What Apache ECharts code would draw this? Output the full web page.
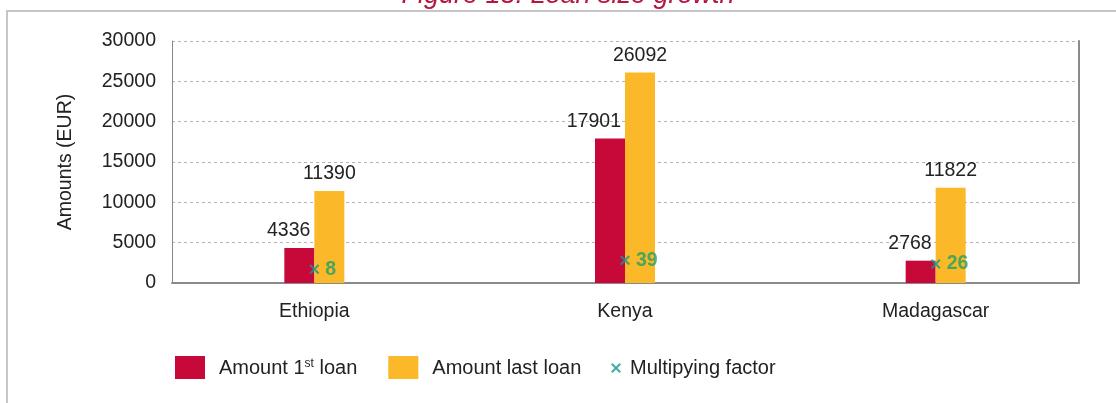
<!DOCTYPE html>
<html>
<head>
<meta charset="utf-8">
<script src="https://cdn.jsdelivr.net/npm/echarts@6/dist/echarts.min.js"></script>
<style>
  html, body { margin: 0; padding: 0; background: #ffffff; }
  #chart { width: 1116px; height: 403px; }
</style>
</head>
<body>
<div id="chart"></div>
<script>
// Loan amounts per country (EUR) and how much the loan grew
const countries = ['Ethiopia', 'Kenya', 'Madagascar'];
const firstLoan = [4336, 17901, 2768];
const lastLoan = [11390, 26092, 11822];
const factor = [8, 39, 26];
const yTicks = { min: 0, max: 30000, step: 5000 };

const FONT = '"Liberation Sans", Arial, Helvetica, sans-serif';
const FS = 19.5;
const RED = '#C7093A';
const YELLOW = '#FBB829';
const TEAL = '#17998C';
const GREEN = '#1FA068';
const AXIS = '#8a8a8a';

const chart = echarts.init(document.getElementById('chart'), null, { renderer: 'canvas' });

const xSymbol = 'path://M1.5,0L5,3.5L8.5,0L10,1.5L6.5,5L10,8.5L8.5,10L5,6.5L1.5,10L0,8.5L3.5,5L0,1.5Z';

chart.setOption({
  backgroundColor: '#ffffff',
  animation: false,
  textStyle: { fontFamily: FONT },
  graphic: [
    {
      type: 'polyline',
      shape: { points: [[7, 403], [7, 11], [1116, 11]] },
      style: { stroke: '#c6c6c6', lineWidth: 2, fill: null },
      silent: true
    },
    {
      type: 'text',
      x: 568, y: 9,
      style: {
        text: 'Figure 18: Loan size growth',
        fill: '#B5163F',
        font: 'italic 27px ' + FONT,
        align: 'center',
        verticalAlign: 'bottom'
      },
      silent: true
    }
  ],
  grid: [
    { left: 172, right: 37, top: 41, bottom: 120 },
    { left: 159, right: 25, top: 41, bottom: 120 }
  ],
  legend: [
    {
      left: 175, top: 356, padding: 0,
      itemWidth: 30, itemHeight: 23, itemGap: 31,
      icon: 'rect',
      data: ['Amount 1st loan', 'Amount last loan'],
      formatter: function (name) {
        return name === 'Amount 1st loan' ? '{t|Amount 1}{sup|st}{t| loan}' : '{t|' + name + '}';
      },
      textStyle: {
        color: '#222',
        padding: [2, 0, 0, 9],
        rich: {
          t: { fontSize: 20, fontFamily: FONT, color: '#222' },
          sup: { fontSize: 12, fontFamily: FONT, color: '#222', padding: [0, 0, 9, 0] }
        }
      }
    },
    {
      left: 611, top: 358, padding: 0,
      itemWidth: 10, itemHeight: 10,
      data: ['Multipying factor'],
      textStyle: { color: '#222', fontSize: 20, fontFamily: FONT, padding: [0, 0, 0, 4] }
    }
  ],
  xAxis: [
    {
      gridIndex: 0, type: 'category', data: countries,
      axisLine: { show: true, lineStyle: { color: AXIS, width: 2 } },
      axisTick: { show: false }, axisLabel: { show: false }
    },
    {
      gridIndex: 1, type: 'category', data: countries,
      axisLine: { show: false }, axisTick: { show: false },
      axisLabel: { margin: 19, fontSize: FS, color: '#222', fontFamily: FONT }
    }
  ],
  yAxis: [
    {
      gridIndex: 0, type: 'value', min: yTicks.min, max: yTicks.max, interval: yTicks.step,
      name: 'Amounts (EUR)', nameLocation: 'middle', nameGap: 96,
      nameTextStyle: { fontSize: FS, color: '#222', fontFamily: FONT },
      axisLine: { show: true, lineStyle: { color: AXIS, width: 1 } },
      axisTick: { show: false },
      axisLabel: { margin: 16, fontSize: FS, color: '#222', fontFamily: FONT, formatter: function (v) { return String(v); } },
      splitLine: { show: true, lineStyle: { color: '#b4b4b4', type: [3, 3], width: 1 } }
    },
    {
      gridIndex: 0, type: 'value', position: 'right', min: yTicks.min, max: yTicks.max,
      axisLine: { show: true, lineStyle: { color: AXIS, width: 2 } },
      axisTick: { show: false }, axisLabel: { show: false }, splitLine: { show: false }
    },
    {
      gridIndex: 1, type: 'value', min: yTicks.min, max: yTicks.max, show: false
    },
    {
      gridIndex: 1, type: 'value', min: -40, max: 800, show: false
    }
  ],
  series: [
    {
      name: 'Amount 1st loan', type: 'bar', xAxisIndex: 1, yAxisIndex: 2,
      data: firstLoan, barWidth: 30, barGap: '0%',
      itemStyle: { color: RED },
      label: {
        show: true, position: 'top', distance: 7, align: 'right', offset: [11, 0],
        fontSize: FS, color: '#222', fontFamily: FONT
      }
    },
    {
      name: 'Amount last loan', type: 'bar', xAxisIndex: 1, yAxisIndex: 2,
      data: lastLoan, barWidth: 30, barGap: '0%',
      itemStyle: { color: YELLOW },
      label: {
        show: true, position: 'top', distance: 7,
        fontSize: FS, color: '#222', fontFamily: FONT
      }
    },
    {
      name: 'Multipying factor', type: 'scatter', xAxisIndex: 1, yAxisIndex: 3,
      data: factor, symbol: xSymbol, symbolSize: 10, z: 5,
      itemStyle: { color: TEAL },
      label: {
        show: true, position: 'right', distance: 6,
        fontSize: FS, fontWeight: 'bold', color: GREEN, fontFamily: FONT
      }
    }
  ]
});
</script>
</body>
</html>
